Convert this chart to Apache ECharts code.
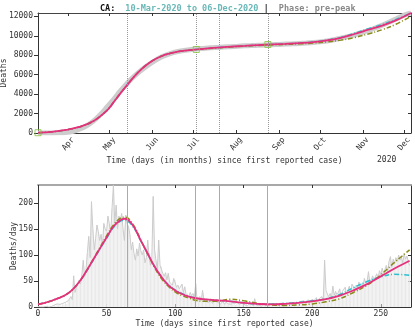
<!DOCTYPE html>
<html>
<head>
<meta charset="utf-8">
<script src="https://cdn.jsdelivr.net/npm/echarts@6/dist/echarts.min.js"></script>
<style>
  html, body { margin: 0; padding: 0; background: #fff; }
  #chart { width: 415px; height: 330px; }
</style>
</head>
<body>
<div id="chart"></div>
<script>
// 字体：等宽
var FONT = '"DejaVu Sans Mono", monospace';

// x 轴刻度（从首例起的天数）
var monthDays = [22, 52, 83, 113, 144, 175, 205, 236, 266];
var monthNames = ['Apr', 'May', 'Jun', 'Jul', 'Aug', 'Sep', 'Oct', 'Nov', 'Dec'];
var dayTicks = [0, 50, 100, 150, 200, 250];
var cumTicks = [0, 2000, 4000, 6000, 8000, 10000, 12000];
var rateTicks = [0, 50, 100, 150, 200];
var eventDays = [65, 115, 132, 167];

// 每日死亡人数（第 0 天起）
var dailyDeaths = [
  1, 0, 0, 1, 0, 2, 1, 3, 0, 2,
  1, 3, 4, 2, 6, 3, 5, 2, 7, 5,
  9, 6, 12, 15, 20, 14, 60, 28, 38, 45,
  52, 44, 62, 90, 58, 72, 105, 136, 95, 203,
  150, 110, 132, 158, 145, 128, 140, 118, 161, 150,
  146, 175, 160, 142, 190, 235, 161, 196, 150, 175,
  165, 180, 150, 128, 177, 160, 155, 140, 110, 125,
  103, 90, 112, 98, 123, 108, 100, 110, 85, 95,
  129, 98, 80, 92, 213, 110, 90, 72, 129, 80,
  78, 65, 59, 66, 52, 65, 48, 45, 42, 55,
  52, 38, 42, 35, 32, 44, 28, 39, 24, 26,
  20, 28, 22, 26, 18, 45, 14, 16, 20, 12,
  32, 15, 10, 15, 8, 12, 16, 7, 10, 12,
  12, 9, 10, 6, 8, 11, 5, 9, 7, 6,
  8, 5, 10, 6, 4, 9, 7, 5, 3, 8,
  6, 4, 7, 3, 5, 9, 6, 2, 16, 4,
  5, 3, 6, 2, 4, 7, 3, 5, 4, 2,
  6, 3, 5, 4, 7, 2, 5, 6, 3, 8,
  4, 7, 5, 9, 6, 4, 8, 10, 5, 7,
  9, 6, 11, 8, 12, 7, 10, 14, 9, 12,
  15, 11, 13, 18, 10, 16, 14, 20, 12, 90,
  32, 25, 20, 26, 18, 40, 22, 30, 24, 28,
  35, 20, 30, 27, 38, 25, 32, 40, 28, 44,
  39, 30, 42, 35, 48, 38, 45, 40, 55, 46,
  50, 68, 45, 52, 60, 52, 58, 64, 55, 70,
  62, 75, 65, 72, 80, 68, 88, 97, 76, 92,
  84, 95, 88, 100, 90, 96, 85, 103, 92, 98,
  88, 80
];

// 累计死亡人数
var cumDataDays = [0, 5, 10, 15, 20, 25, 30, 35, 40, 45, 50, 55, 60, 65, 70, 75, 80, 85, 90, 95,
  100, 105, 110, 115, 120, 125, 130, 135, 140, 145, 150, 155, 160, 165, 170, 175, 180, 185, 190, 195,
  200, 205, 210, 215, 220, 225, 230, 235, 240, 245, 250, 255, 260, 265, 270, 271];
var cumDeaths = [0, 2, 8, 20, 50, 150, 380, 720, 1200, 1850, 2650, 3470, 4350, 5150, 5850, 6450, 6980, 7450, 7850, 8120,
  8330, 8460, 8560, 8640, 8700, 8760, 8800, 8840, 8880, 8920, 8960, 8990, 9020, 9050, 9080, 9110, 9140, 9170, 9210, 9250,
  9300, 9370, 9470, 9590, 9740, 9910, 10100, 10310, 10540, 10800, 11080, 11380, 11720, 12060, 12300, 12340];

// 拟合曲线：累计
var cumFitDays = [0, 10, 20, 30, 40, 50, 55, 60, 65, 70, 75, 80, 85, 90, 95, 100, 105, 110, 115, 120,
  130, 140, 150, 160, 170, 180, 190, 200, 210, 220, 230, 240, 250, 260, 271];
var cumFitMain = [30, 120, 310, 620, 1200, 2300, 3170, 4100, 4980, 5820, 6550, 7130, 7580, 7920, 8150, 8320, 8440, 8520, 8590, 8660,
  8780, 8880, 8960, 9040, 9110, 9170, 9240, 9340, 9520, 9780, 10180, 10620, 11050, 11580, 12340];
var cumFitCyan = [30, 120, 310, 620, 1200, 2300, 3170, 4100, 4980, 5820, 6550, 7130, 7580, 7920, 8150, 8320, 8440, 8520, 8590, 8660,
  8780, 8880, 8960, 9040, 9110, 9170, 9250, 9350, 9550, 9830, 10260, 10730, 11160, 11680, 12320];
var cumFitOlive = [30, 120, 310, 620, 1200, 2300, 3170, 4100, 4980, 5820, 6550, 7130, 7580, 7920, 8150, 8320, 8440, 8520, 8570, 8630,
  8740, 8840, 8930, 9000, 9060, 9110, 9170, 9250, 9370, 9550, 9820, 10190, 10620, 11180, 12000];

// 拟合曲线：每日
var rateFitDays = [0, 5, 10, 15, 20, 25, 30, 35, 40, 45, 50, 55, 60, 63, 65, 70, 75, 80, 85, 90,
  95, 100, 105, 110, 115, 120, 130, 140, 150, 160, 170, 180, 190, 200, 210, 220, 230, 240, 250, 260, 271];
var rateFitMain = [5, 8, 12, 17, 23, 33, 48, 68, 90, 112, 134, 155, 167, 170, 169, 154, 128, 103, 78, 58,
  42, 32, 25, 20, 17, 15, 13, 11, 8, 6, 5, 6, 8, 11, 15, 22, 32, 44, 59, 74, 89];
var rateFitCyan = [5, 8, 12, 17, 23, 33, 48, 67, 89, 111, 132, 153, 165, 167, 166, 152, 127, 102, 78, 58,
  43, 33, 26, 21, 17, 15, 13, 11, 8, 6, 6, 7, 9, 12, 16, 24, 37, 49, 58, 63, 61];
var rateFitOlive = [5, 8, 12, 17, 23, 33, 48, 68, 91, 114, 137, 158, 171, 173, 172, 156, 129, 102, 76, 55,
  40, 29, 22, 17, 13, 11, 11, 15, 12, 7, 4, 3, 4, 6, 10, 16, 28, 42, 62, 86, 110];

// 标记点
var markDays = [0, 115, 167];
var markDeaths = [30, 8590, 9100];
var peakDays = [65, 132];
var peakDeaths = [4980, 8790];

function pairs(xs, ys) {
  return xs.map(function (x, i) { return [x, ys[i]]; });
}

var chart = echarts.init(document.getElementById('chart'));

var txt = { fontFamily: FONT, fontSize: 8, color: '#333' };
var dashDot = [5, 2, 1, 2];
var plain = function (v) { return String(v); };

function fitLine(name, xi, yi, data, color, type, width) {
  return {
    name: name, type: 'line', xAxisIndex: xi, yAxisIndex: yi,
    data: data, showSymbol: false, smooth: 0.4, silent: true,
    lineStyle: { color: color, width: width, type: type }, z: 4
  };
}

var option = {
  animation: false,
  title: {
    left: 100, top: 0, padding: 0,
    text: '{a|CA:}  {b|10-Mar-2020 to 06-Dec-2020} {c||}  {d|Phase: pre-peak}',
    textStyle: {
      rich: {
        a: { fontFamily: FONT, fontSize: 8.5, fontWeight: 'bold', color: '#111' },
        b: { fontFamily: FONT, fontSize: 8.5, color: '#6ab8b8' },
        c: { fontFamily: FONT, fontSize: 9, fontWeight: 'bold', color: '#333' },
        d: { fontFamily: FONT, fontSize: 8.5, color: '#888' }
      }
    }
  },
  graphic: [{
    type: 'text', left: 377, top: 156,
    style: { text: '2020', font: '8px "DejaVu Sans Mono", monospace', fill: '#333' }
  }],
  grid: [
    { left: 38, top: 13, width: 373, height: 120, containLabel: false, outerBoundsMode: 'none' },
    { left: 38, top: 185, width: 373, height: 122, containLabel: false, outerBoundsMode: 'none' }
  ],
  xAxis: [
    {
      gridIndex: 0, type: 'value', min: 0, max: 271, position: 'bottom',
      axisLine: { onZero: false, lineStyle: { color: '#333' } },
      axisTick: { inside: true, length: 3, customValues: monthDays, lineStyle: { color: '#333' } },
      axisLabel: {
        customValues: monthDays, rotate: 50, align: 'center', verticalAlign: 'middle', margin: 11,
        fontFamily: FONT, fontSize: 8, color: '#333',
        formatter: function (v) { return monthNames[monthDays.indexOf(v)]; }
      },
      splitLine: { show: false },
      name: 'Time (days (in months) since first reported case)',
      nameLocation: 'middle', nameGap: 24, nameMoveOverlap: false, nameTextStyle: txt
    },
    {
      gridIndex: 0, type: 'value', min: 0, max: 271, position: 'top',
      axisLine: { onZero: false, lineStyle: { color: '#444' } },
      axisTick: { inside: true, length: 3, customValues: monthDays, lineStyle: { color: '#333' } },
      axisLabel: { show: false }, splitLine: { show: false }
    },
    {
      gridIndex: 1, type: 'value', min: 0, max: 272, position: 'bottom',
      axisLine: { onZero: false, lineStyle: { color: '#333' } },
      axisTick: { inside: true, length: 3, customValues: dayTicks, lineStyle: { color: '#333' } },
      axisLabel: { customValues: dayTicks, margin: 3, fontFamily: FONT, fontSize: 8, color: '#333', formatter: plain },
      splitLine: { show: false },
      name: 'Time (days since first reported case)',
      nameLocation: 'middle', nameGap: 13, nameMoveOverlap: false, nameTextStyle: txt
    },
    {
      gridIndex: 1, type: 'value', min: 0, max: 272, position: 'top',
      axisLine: { onZero: false, lineStyle: { color: '#a8a8a8', width: 2 } },
      axisTick: { inside: true, length: 3, customValues: dayTicks, lineStyle: { color: '#333' } },
      axisLabel: { show: false }, splitLine: { show: false }
    }
  ],
  yAxis: [
    {
      gridIndex: 0, type: 'value', min: 0, max: 12340, position: 'left',
      axisLine: { show: true, onZero: false, lineStyle: { color: '#333' } },
      axisTick: { show: true, length: 4, customValues: cumTicks, lineStyle: { color: '#333' } },
      axisLabel: { customValues: cumTicks, margin: 5, fontFamily: FONT, fontSize: 8, color: '#333', formatter: plain },
      splitLine: { show: false },
      name: 'Deaths', nameLocation: 'middle', nameRotate: 90, nameGap: 30, nameMoveOverlap: false, nameTextStyle: txt
    },
    {
      gridIndex: 0, type: 'value', min: 0, max: 12340, position: 'right',
      axisLine: { show: true, onZero: false, lineStyle: { color: '#333' } },
      axisTick: { show: true, inside: true, length: 3, customValues: cumTicks, lineStyle: { color: '#333' } },
      axisLabel: { show: false }, splitLine: { show: false }
    },
    {
      gridIndex: 1, type: 'value', min: 0, max: 235, position: 'left',
      axisLine: { show: true, onZero: false, lineStyle: { color: '#333' } },
      axisTick: { show: true, length: 4, customValues: rateTicks, lineStyle: { color: '#333' } },
      axisLabel: { customValues: rateTicks, margin: 5, fontFamily: FONT, fontSize: 8, color: '#333', formatter: plain },
      splitLine: { show: false },
      name: 'Deaths/day', nameLocation: 'middle', nameRotate: 90, nameGap: 20, nameMoveOverlap: false, nameTextStyle: txt
    },
    {
      gridIndex: 1, type: 'value', min: 0, max: 235, position: 'right',
      axisLine: { show: true, onZero: false, lineStyle: { color: '#333' } },
      axisTick: { show: true, inside: true, length: 3, customValues: rateTicks, lineStyle: { color: '#333' } },
      axisLabel: { show: false }, splitLine: { show: false }
    }
  ],
  series: [
    // 上图：累计数据
    {
      name: 'cum', type: 'line', xAxisIndex: 0, yAxisIndex: 0,
      data: pairs(cumDataDays, cumDeaths), showSymbol: false, smooth: 0.3, silent: true,
      lineStyle: { color: '#cdcdcd', width: 5 }, z: 2,
      markLine: {
        silent: true, symbol: ['none', 'none'], label: { show: false },
        lineStyle: { color: '#999', type: 'dotted', width: 1 },
        data: eventDays.map(function (d) { return { xAxis: d }; })
      }
    },
    fitLine('cyanCum', 0, 0, pairs(cumFitDays, cumFitCyan), '#2cbfcc', dashDot, 1.5),
    fitLine('oliveCum', 0, 0, pairs(cumFitDays, cumFitOlive), '#8a8a1c', dashDot, 1.5),
    fitLine('mainCum', 0, 0, pairs(cumFitDays, cumFitMain), '#e6307c', 'solid', 1.8),
    {
      name: 'marks', type: 'scatter', xAxisIndex: 0, yAxisIndex: 0,
      data: pairs(markDays, markDeaths), symbol: 'rect', symbolSize: 6, silent: true,
      itemStyle: { color: 'rgba(0,0,0,0)', borderColor: '#86c23a', borderWidth: 1 }, z: 6
    },
    {
      name: 'peaks', type: 'scatter', xAxisIndex: 0, yAxisIndex: 0,
      data: pairs(peakDays, peakDeaths), symbol: 'circle', symbolSize: 4, silent: true,
      itemStyle: { color: '#9fd3ee' }, z: 3
    },
    // 下图：每日数据
    {
      name: 'bars', type: 'bar', xAxisIndex: 2, yAxisIndex: 2,
      data: dailyDeaths.map(function (v, i) { return [i, v]; }),
      barWidth: 1, silent: true, itemStyle: { color: '#e8e8e8' }, z: 1
    },
    {
      name: 'daily', type: 'line', xAxisIndex: 2, yAxisIndex: 2,
      data: dailyDeaths.map(function (v, i) { return [i, v]; }),
      showSymbol: false, silent: true, lineStyle: { color: '#cccccc', width: 1 }, z: 2,
      markLine: {
        silent: true, symbol: ['none', 'none'], label: { show: false },
        lineStyle: { color: '#aaa', type: 'solid', width: 1 },
        data: eventDays.map(function (d) { return { xAxis: d }; })
      }
    },
    fitLine('cyanRate', 2, 2, pairs(rateFitDays, rateFitCyan), '#2cbfcc', dashDot, 1.5),
    fitLine('oliveRate', 2, 2, pairs(rateFitDays, rateFitOlive), '#8a8a1c', dashDot, 1.5),
    fitLine('mainRate', 2, 2, pairs(rateFitDays, rateFitMain), '#e6307c', 'solid', 1.8)
  ]
};

chart.setOption(option);
</script>
</body>
</html>
